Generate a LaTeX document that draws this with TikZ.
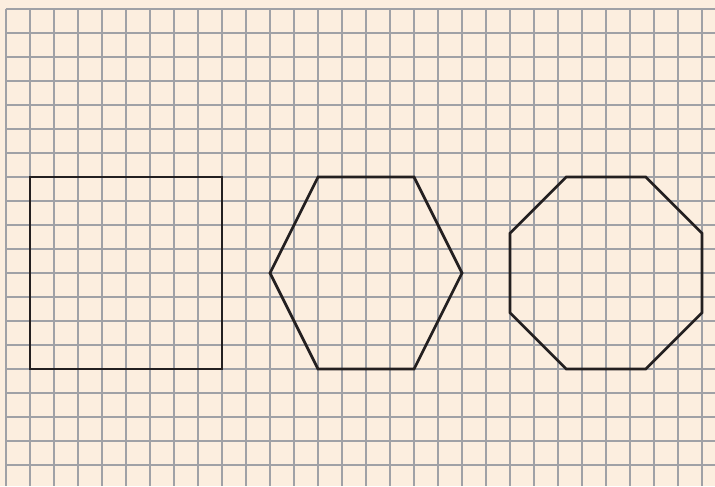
\documentclass[tikz,border=0pt]{standalone}
\usepackage{tikz}
\usetikzlibrary{calc}
\definecolor{paper}{HTML}{FCEEDF}
\definecolor{rule}{HTML}{A0A1A6}
\definecolor{ink}{HTML}{231F20}
\tikzset{gridline/.style={draw=rule,line width=.9pt},
  outline/.style={draw=ink,line width=1.6pt,line join=miter}}
\newcommand{\cut}{2.3431}

\begin{document}
\begin{tikzpicture}[x=.5cm,y=-.5cm]
\fill[paper] (-.25,-.375) rectangle (29.5417,19.875);
\useasboundingbox (-.25,-.375) rectangle (29.5417,19.875);
\foreach \i in {0,...,29} \draw[gridline] (\i,0) -- (\i,19.875);
\foreach \j in {0,...,19} \draw[gridline] (0,\j) -- (29.5417,\j);
% square
\draw[outline] (1,7) rectangle (9,15);
% hexagon
\draw[outline] (11,11)--(13,7)--(17,7)--(19,11)--(17,15)--(13,15)--cycle;
% octagon
\draw[outline] (21+\cut,7)--(29-\cut,7)--(29,7+\cut)--(29,15-\cut)
  --(29-\cut,15)--(21+\cut,15)--(21,15-\cut)--(21,7+\cut)--cycle;
\end{tikzpicture}
\end{document}
